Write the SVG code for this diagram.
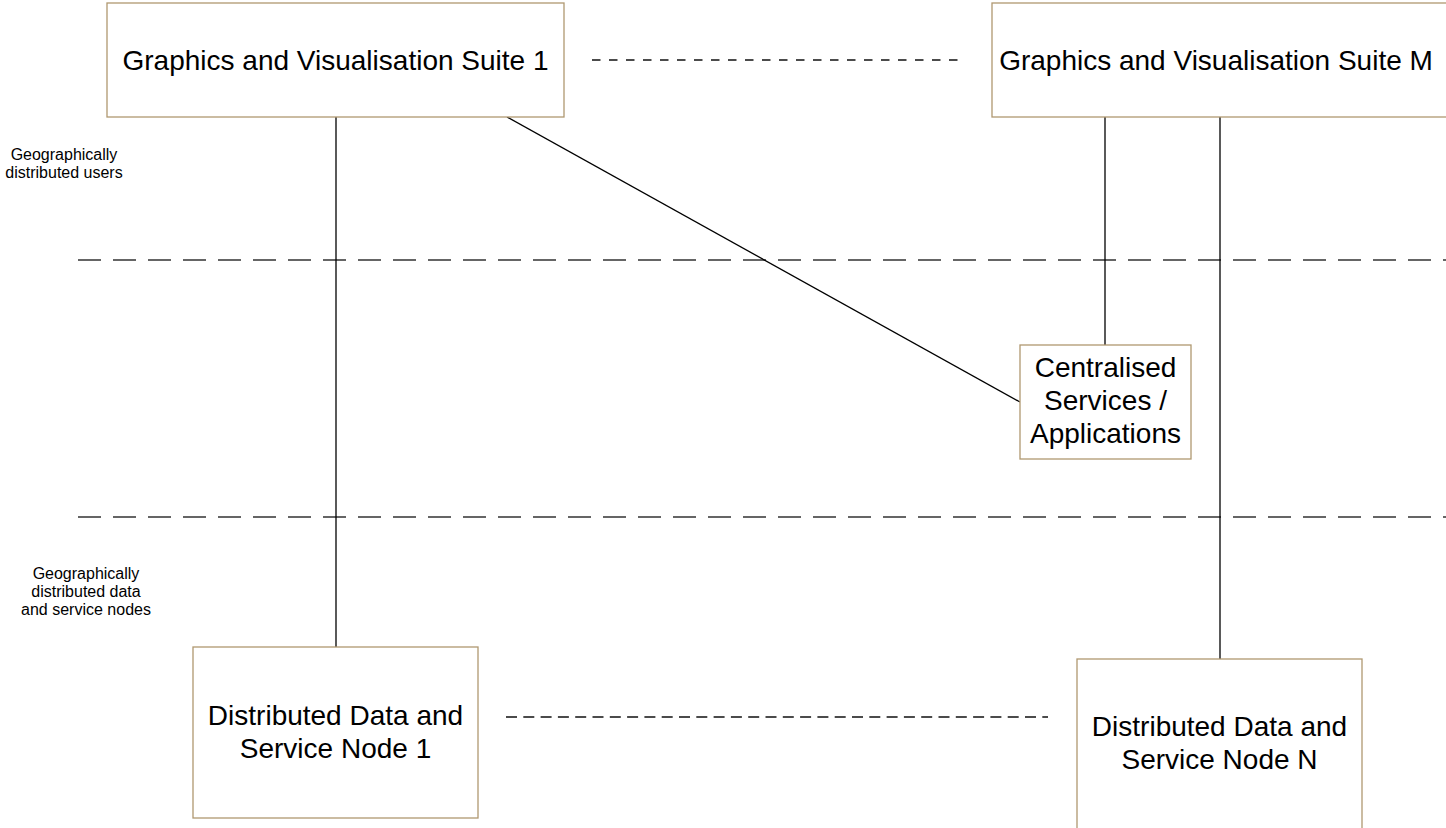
<svg xmlns="http://www.w3.org/2000/svg" width="1446" height="828" viewBox="0 0 1446 828">
  <style>
    .box { fill: #ffffff; stroke: #b09870; stroke-width: 1.3; }
    .label { font-family: "Liberation Sans", Arial, sans-serif; font-size: 28px; fill: #000; text-anchor: middle; }
    .small { font-family: "Liberation Sans", Arial, sans-serif; font-size: 16px; fill: #000; text-anchor: middle; }
    .link { stroke: #000; stroke-width: 1.3; fill: none; }
    .tier { stroke: #333; stroke-width: 1.6; stroke-dasharray: 23 12; fill: none; }
    .peer-top { stroke: #111; stroke-width: 1.4; stroke-dasharray: 8.5 8.5; fill: none; }
    .peer-bottom { stroke: #111; stroke-width: 1.4; stroke-dasharray: 11 6.3; fill: none; }
  </style>
  <rect width="1446" height="828" fill="#ffffff"/>

  <!-- tier separators -->
  <g id="tiers">
    <line class="tier" x1="78" y1="260" x2="1446" y2="260"/>
    <line class="tier" x1="78" y1="517" x2="1446" y2="517"/>
  </g>

  <!-- connectors -->
  <g id="connectors">
    <line class="link" x1="336" y1="117" x2="336" y2="647"/>
    <line class="link" x1="507" y1="117" x2="1020" y2="402"/>
    <line class="link" x1="1105" y1="117" x2="1105" y2="345"/>
    <line class="link" x1="1220" y1="117" x2="1220" y2="659"/>
    <line class="peer-top" x1="592" y1="60" x2="963" y2="60"/>
    <line class="peer-bottom" x1="506" y1="717" x2="1048" y2="717"/>
  </g>

  <g id="suite-1">
    <rect class="box" x="107" y="3" width="457" height="114"/>
    <text class="label" x="335.5" y="70">Graphics and Visualisation Suite 1</text>
  </g>

  <g id="suite-m">
    <rect class="box" x="992" y="3" width="470" height="114"/>
    <text class="label" x="1216" y="70">Graphics and Visualisation Suite M</text>
  </g>

  <g id="central-services">
    <rect class="box" x="1020" y="345" width="171" height="114"/>
    <text class="label" x="1105.5" y="377">Centralised</text>
    <text class="label" x="1105.5" y="410">Services /</text>
    <text class="label" x="1105.5" y="443">Applications</text>
  </g>

  <g id="node-1">
    <rect class="box" x="193" y="647" width="285" height="171"/>
    <text class="label" x="335.5" y="725">Distributed Data and</text>
    <text class="label" x="335.5" y="758">Service Node 1</text>
  </g>

  <g id="node-n">
    <rect class="box" x="1077" y="659" width="285" height="180"/>
    <text class="label" x="1219.5" y="736">Distributed Data and</text>
    <text class="label" x="1219.5" y="769">Service Node N</text>
  </g>

  <g id="users-label">
    <text class="small" x="64" y="160">Geographically</text>
    <text class="small" x="64" y="178">distributed users</text>
  </g>

  <g id="nodes-label">
    <text class="small" x="86" y="579">Geographically</text>
    <text class="small" x="86" y="597">distributed data</text>
    <text class="small" x="86" y="615">and service nodes</text>
  </g>
</svg>
